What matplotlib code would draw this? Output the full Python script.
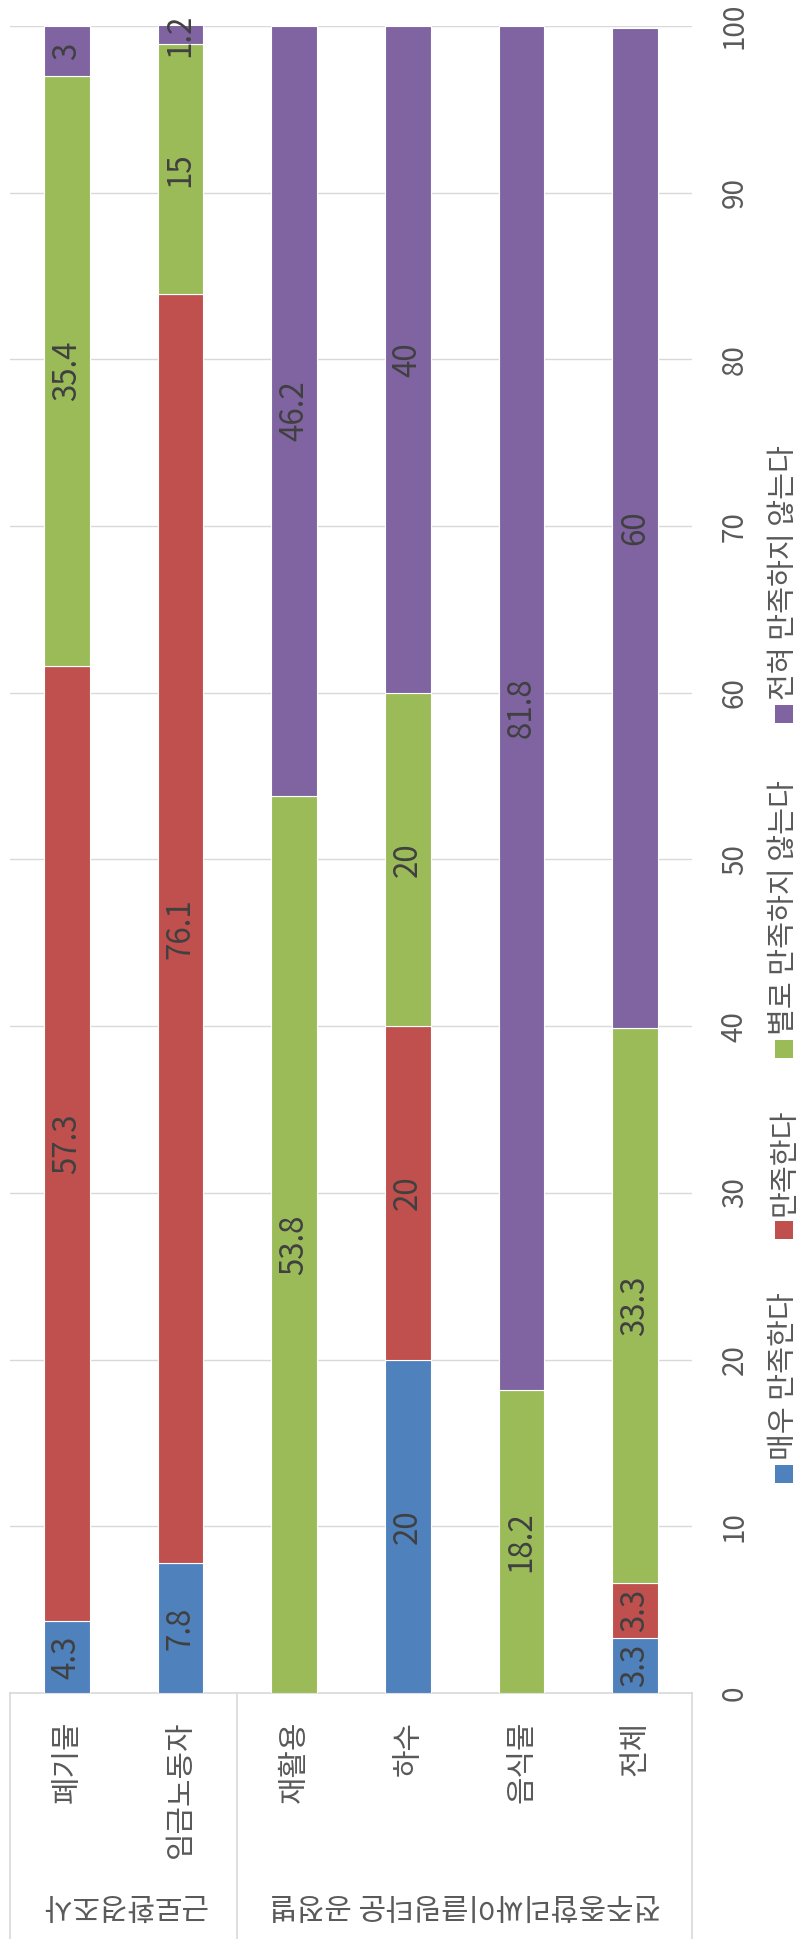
import numpy as np
import matplotlib
matplotlib.use('Agg')
import matplotlib.pyplot as plt
from matplotlib.patches import Rectangle

plt.rcParams['font.family'] = ['Noto Sans CJK KR', 'DejaVu Sans']

# data
categories = ['폐기물', '임금노동자', '재활용', '하수', '음식물', '전체']
groups = ['근로환경조사', '전주종합리싸이클링타운 공정별']
series_names = ['매우 만족한다', '만족한다', '별로 만족하지 않는다', '전혀 만족하지 않는다']
very_satisfied = [4.3, 7.8, 0, 20, 0, 3.3]
satisfied = [57.3, 76.1, 0, 20, 0, 3.3]
not_really = [35.4, 15, 53.8, 20, 18.2, 33.3]
not_at_all = [3, 1.2, 46.2, 40, 81.8, 60]
colors = ['#4F81BD', '#C0504D', '#9BBB59', '#8064A2']

W, H = 799, 1939
fig = plt.figure(figsize=(W / 100, H / 100), dpi=100)
# axes box: x 10..692 px, value axis 0 at y=1693, 100 at y=26
ax = fig.add_axes([10 / W, (H - 1693) / H, 682 / W, 1667 / H])

x = np.arange(len(categories))
bottom = np.zeros(len(categories))
for vals, color in zip([very_satisfied, satisfied, not_really, not_at_all], colors):
    vals = np.array(vals, dtype=float)
    bars = ax.bar(x, vals, 0.4, bottom=bottom, color=color,
                  edgecolor='white', linewidth=0.8, zorder=3)
    labels = [f'{v:g}' if v > 0 else '' for v in vals]
    ax.bar_label(bars, labels=labels, label_type='center', rotation=90,
                 fontsize=22.5, color='#404040', zorder=4)
    bottom += vals

ax.set_xlim(-0.5, len(categories) - 0.5)
ax.set_ylim(0, 100)

# grid + spines
ax.yaxis.grid(True, color='#d9d9d9', linewidth=1)
ax.set_axisbelow(True)
for s in ['top', 'left', 'right']:
    ax.spines[s].set_visible(False)
ax.spines['bottom'].set_color('#d9d9d9')
ax.spines['bottom'].set_linewidth(1.2)

# value axis on the right, rotated
ax.yaxis.tick_right()
ax.set_yticks(range(0, 101, 10))
ax.tick_params(axis='y', length=0, pad=20, labelsize=20,
               labelcolor='#595959', labelrotation=90)
for lbl in ax.get_yticklabels():
    lbl.set_va('center')

# category labels
ax.set_xticks(x, categories)
ax.tick_params(axis='x', length=0, pad=20, labelsize=21.5,
               labelcolor='#595959', labelrotation=90)

# table-style separators under the axis
xt = ax.get_xaxis_transform()
for xb in [-0.5, 1.5, len(categories) - 0.5]:
    ax.plot([xb, xb], [0, -0.16], transform=xt, color='#d9d9d9',
            lw=1.2, clip_on=False)

# group labels (upside-down like the source)
ax.text(0.5, -0.127, groups[0], transform=xt, rotation=180, ha='center',
        va='center', fontsize=21.5, color='#595959')
ax.text(3.5, -0.127, groups[1], transform=xt, rotation=180, ha='center',
        va='center', fontsize=21.5, color='#595959')

# legend drawn by hand, rotated
leg_x = 784
leg_y = [1474, 1230, 1049, 714]
sq = 18
for name, color, yc in zip(series_names, colors, leg_y):
    fig.add_artist(Rectangle(((leg_x - sq / 2) / W, (H - yc - sq / 2) / H),
                             sq / W, sq / H, transform=fig.transFigure,
                             facecolor=color, edgecolor='none'))
    fig.text(leg_x / W, (H - yc + 14) / H, name, rotation=90, ha='center',
             va='bottom', fontsize=21, color='#595959')

fig.savefig('out.png', dpi=100)
